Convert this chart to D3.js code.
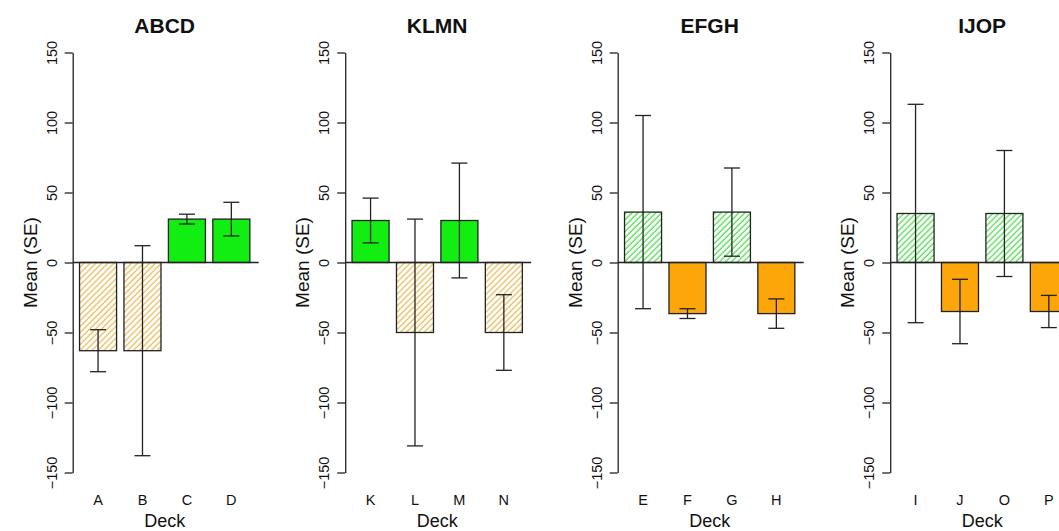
<!DOCTYPE html>
<html>
<head>
<meta charset="utf-8">
<script src="https://cdn.jsdelivr.net/npm/d3@7"></script>
<style>
  body { margin: 0; background: #fff; }
  text { font-family: "Liberation Sans", Arial, Helvetica, sans-serif; fill: #111; }
</style>
</head>
<body>
<script>
// Chart data
var titles = ["ABCD", "KLMN", "EFGH", "IJOP"];
var decks = [["A", "B", "C", "D"], ["K", "L", "M", "N"], ["E", "F", "G", "H"], ["I", "J", "O", "P"]];
var means = [[-63, -63, 31, 31], [30, -50, 30, -50], [36, -36.5, 36, -36.5], [35, -35, 35, -35]];
var ses = [[15, 75, 3.5, 12], [16, 81, 41, 27], [69, 3.5, 31.5, 10.5], [78, 23, 45, 11.5]];
// fill kind for each bar: colour + hatched or solid
var kinds = [["orangeHatch", "orangeHatch", "green", "green"],
             ["green", "orangeHatch", "green", "orangeHatch"],
             ["greenHatch", "orange", "greenHatch", "orange"],
             ["greenHatch", "orange", "greenHatch", "orange"]];
var yTicks = [-150, -100, -50, 0, 50, 100, 150];

// SVG size
var svgWidth = 1059;
var svgHeight = 531;

// Panel layout
var firstAxisX = 72.7;
var panelStep = 272.5;
var plotWidth = 184;
var plotTop = 52.5;
var plotBottom = 472.5;

var svg = d3.select("body")
  .append("svg")
  .attr("width", svgWidth)
  .attr("height", svgHeight);

// Hatch patterns
var defs = svg.append("defs");
function addHatch(id, colour) {
  var p = defs.append("pattern")
    .attr("id", id)
    .attr("patternUnits", "userSpaceOnUse")
    .attr("width", 4.2)
    .attr("height", 4.2)
    .attr("patternTransform", "rotate(45)");
  p.append("rect").attr("width", 4.2).attr("height", 4.2).attr("fill", "#fff");
  p.append("line")
    .attr("x1", 1).attr("x2", 1)
    .attr("y1", 0).attr("y2", 4.2)
    .attr("stroke", colour)
    .attr("stroke-width", 1.3);
}
addHatch("orangeHatch", "#ecbd5c");
addHatch("greenHatch", "#52e052");

var fills = {
  orange: "#fca60a",
  green: "#12ee12",
  orangeHatch: "url(#orangeHatch)",
  greenHatch: "url(#greenHatch)"
};

var yScale = d3.scaleLinear()
  .domain([-150, 150])
  .range([plotBottom, plotTop]);

titles.forEach(function (title, i) {
  var axisX = firstAxisX + i * panelStep;

  var rows = decks[i].map(function (d, j) {
    return { deck: d, mean: means[i][j], se: ses[i][j], kind: kinds[i][j] };
  });

  var xScale = d3.scaleBand()
    .domain(decks[i])
    .range([0, plotWidth])
    .paddingInner(0.1667)
    .paddingOuter(0.154);

  var g = svg.append("g")
    .attr("transform", "translate(" + axisX + ",0)");

  // Bars
  g.selectAll("rect.bar")
    .data(rows)
    .enter()
    .append("rect")
    .attr("class", "bar")
    .attr("x", function (d) { return xScale(d.deck); })
    .attr("width", xScale.bandwidth())
    .attr("y", function (d) { return yScale(Math.max(0, d.mean)); })
    .attr("height", function (d) { return Math.abs(yScale(d.mean) - yScale(0)); })
    .attr("fill", function (d) { return fills[d.kind]; })
    .attr("stroke", "#222")
    .attr("stroke-width", 1.3);

  // Zero line
  g.append("line")
    .attr("x1", 0)
    .attr("x2", plotWidth + 2)
    .attr("y1", yScale(0))
    .attr("y2", yScale(0))
    .attr("stroke", "#222")
    .attr("stroke-width", 1.3);

  // Error bars
  var err = g.selectAll("g.err")
    .data(rows)
    .enter()
    .append("g")
    .attr("class", "err")
    .attr("transform", function (d) {
      return "translate(" + (xScale(d.deck) + xScale.bandwidth() / 2) + ",0)";
    });
  err.append("line")
    .attr("y1", function (d) { return yScale(d.mean + d.se); })
    .attr("y2", function (d) { return yScale(d.mean - d.se); })
    .attr("stroke", "#222")
    .attr("stroke-width", 1.3);
  [1, -1].forEach(function (sign) {
    err.append("line")
      .attr("x1", -8)
      .attr("x2", 8)
      .attr("y1", function (d) { return yScale(d.mean + sign * d.se); })
      .attr("y2", function (d) { return yScale(d.mean + sign * d.se); })
      .attr("stroke", "#222")
      .attr("stroke-width", 1.3);
  });

  // Left axis with rotated labels
  var leftAxis = d3.axisLeft(yScale)
    .tickValues(yTicks)
    .tickSize(8)
    .tickSizeOuter(0);
  var ax = g.append("g").call(leftAxis);
  ax.selectAll("path, line").attr("stroke", "#222").attr("stroke-width", 1.3);
  ax.selectAll("text")
    .attr("x", null)
    .attr("dy", null)
    .attr("text-anchor", "middle")
    .attr("transform", "translate(-16,0) rotate(-90)")
    .style("font-size", "14.5px")
    .style("font-family", "'Liberation Sans', Arial, sans-serif")
    .attr("fill", "#111");

  // Category labels
  g.selectAll("text.cat")
    .data(rows)
    .enter()
    .append("text")
    .attr("class", "cat")
    .attr("x", function (d) { return xScale(d.deck) + xScale.bandwidth() / 2; })
    .attr("y", 505)
    .attr("text-anchor", "middle")
    .style("font-size", "14.5px")
    .text(function (d) { return d.deck; });

  // Axis titles
  g.append("text")
    .attr("x", plotWidth / 2)
    .attr("y", 527)
    .attr("text-anchor", "middle")
    .style("font-size", "18px")
    .text("Deck");

  g.append("text")
    .attr("transform", "translate(-36," + yScale(0) + ") rotate(-90)")
    .attr("text-anchor", "middle")
    .style("font-size", "19px")
    .text("Mean (SE)");

  // Panel title
  g.append("text")
    .attr("x", plotWidth / 2)
    .attr("y", 33)
    .attr("text-anchor", "middle")
    .style("font-size", "21px")
    .style("font-weight", "bold")
    .text(title);
});
</script>
</body>
</html>
